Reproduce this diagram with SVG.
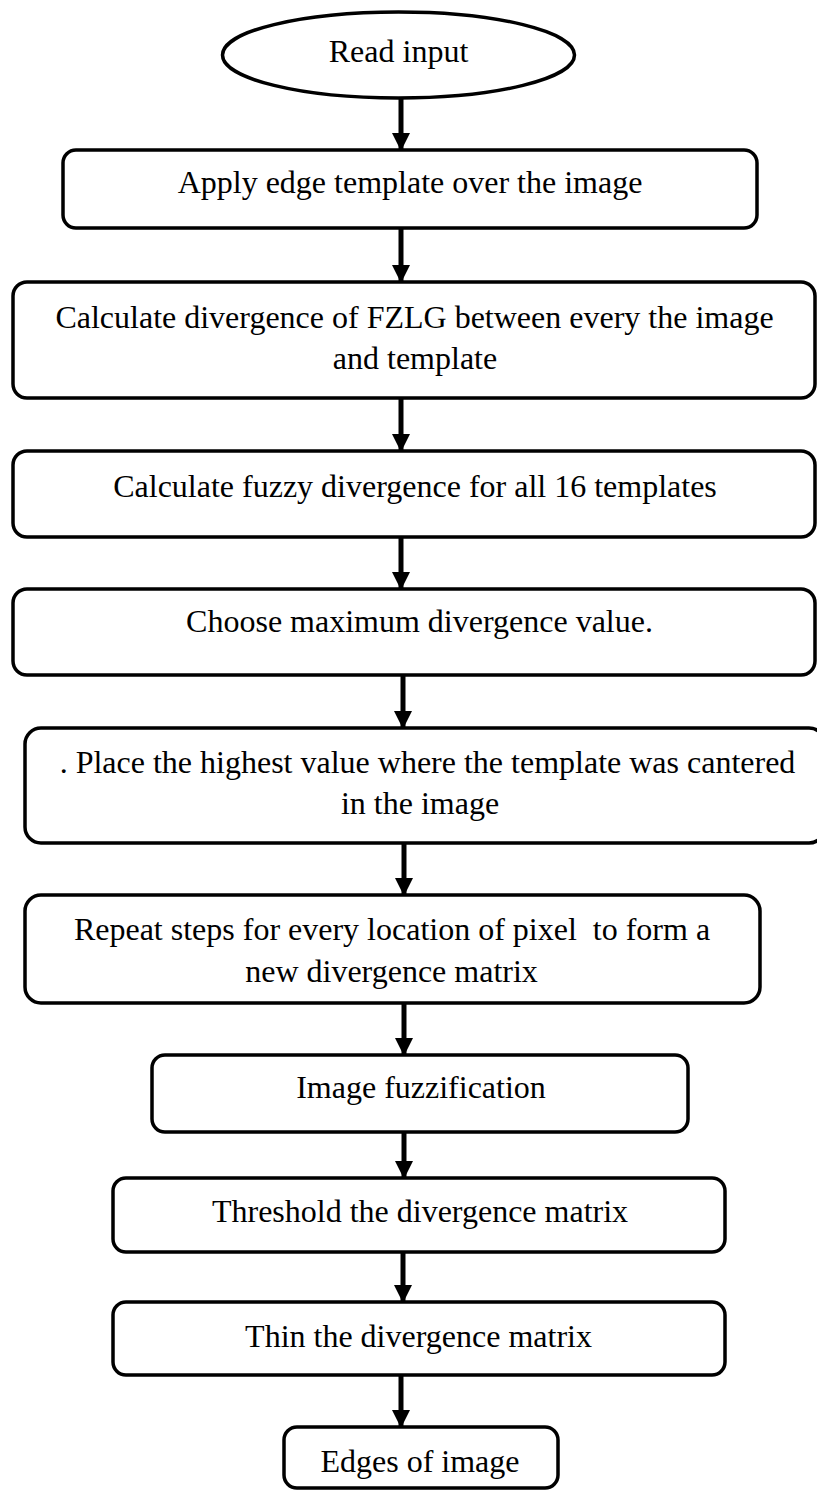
<svg xmlns="http://www.w3.org/2000/svg" width="817" height="1492" viewBox="0 0 817 1492">
<defs>
<style>
.n{fill:#fff;stroke:#000;stroke-width:3.5}
.t{font-family:"Liberation Serif","Times New Roman",serif;font-size:32px;fill:#000;text-anchor:middle}
.c{stroke:#000;stroke-width:5;fill:none}
</style>
<marker id="ah" markerUnits="userSpaceOnUse" markerWidth="18" markerHeight="18" refX="17" refY="9" orient="auto">
<path d="M0,0 L18,9 L0,18 z" fill="#000"/>
</marker>
</defs>
<rect width="817" height="1492" fill="#fff"/>
<g id="connectors">
<line class="c" x1="401" y1="99" x2="401" y2="150" marker-end="url(#ah)"/>
<line class="c" x1="401" y1="228" x2="401" y2="282" marker-end="url(#ah)"/>
<line class="c" x1="401" y1="398" x2="401" y2="451" marker-end="url(#ah)"/>
<line class="c" x1="401" y1="537" x2="401" y2="589" marker-end="url(#ah)"/>
<line class="c" x1="403" y1="675" x2="403" y2="728" marker-end="url(#ah)"/>
<line class="c" x1="404" y1="843" x2="404" y2="895" marker-end="url(#ah)"/>
<line class="c" x1="404" y1="1003" x2="404" y2="1055" marker-end="url(#ah)"/>
<line class="c" x1="404" y1="1127" x2="404" y2="1178" marker-end="url(#ah)"/>
<line class="c" x1="403" y1="1252" x2="403" y2="1302" marker-end="url(#ah)"/>
<line class="c" x1="401" y1="1375" x2="401" y2="1427" marker-end="url(#ah)"/>
</g>
<g id="n0"><ellipse class="n" cx="398.5" cy="55" rx="176" ry="43"/><text class="t" x="398.5" y="62">Read input</text></g>
<g id="n1"><rect class="n" x="63" y="150" width="694" height="78" rx="13"/><text class="t" x="410" y="193">Apply edge template over the image</text></g>
<g id="n2"><rect class="n" x="13" y="282" width="802" height="116" rx="14"/><text class="t" x="414.5" y="328">Calculate divergence of FZLG between every the image</text><text class="t" x="415" y="369">and template</text></g>
<g id="n3"><rect class="n" x="13" y="451" width="802" height="86" rx="14"/><text class="t" x="415" y="497">Calculate fuzzy divergence for all 16 templates</text></g>
<g id="n4"><rect class="n" x="13" y="589" width="802" height="86" rx="14"/><text class="t" x="419.5" y="632">Choose maximum divergence value.</text></g>
<g id="n5"><rect class="n" x="25" y="728" width="800" height="115" rx="16"/><text class="t" x="427.5" y="773">. Place the highest value where the template was cantered</text><text class="t" x="420" y="814">in the image</text></g>
<g id="n6"><rect class="n" x="25" y="895" width="735" height="108" rx="16"/><text class="t" x="392" y="940" xml:space="preserve">Repeat steps for every location of pixel  to form a</text><text class="t" x="391.5" y="982">new divergence matrix</text></g>
<g id="n7"><rect class="n" x="152" y="1055" width="536" height="77" rx="13"/><text class="t" x="421" y="1098">Image fuzzification</text></g>
<g id="n8"><rect class="n" x="113" y="1178" width="612" height="74" rx="13"/><text class="t" x="420" y="1222">Threshold the divergence matrix</text></g>
<g id="n9"><rect class="n" x="113" y="1302" width="612" height="73" rx="13"/><text class="t" x="418.5" y="1347">Thin the divergence matrix</text></g>
<g id="n10"><rect class="n" x="284" y="1427" width="274" height="61" rx="13"/><text class="t" x="420" y="1472">Edges of image</text></g>
</svg>
